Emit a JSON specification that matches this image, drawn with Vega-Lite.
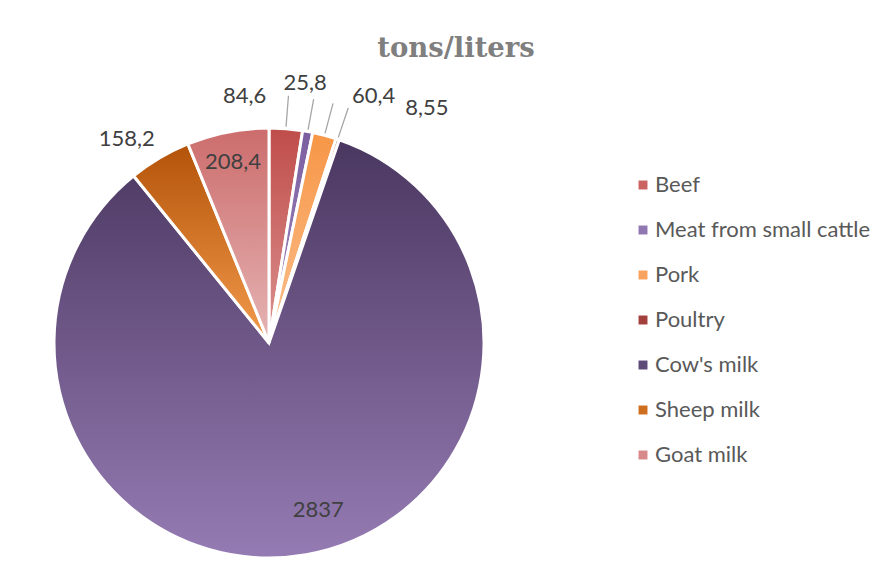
{
  "$schema": "https://vega.github.io/schema/vega-lite/v6.json",
  "width": 538,
  "height": 430,
  "autosize": {"type": "none"},
  "padding": {"left": 0, "top": 128, "right": 353, "bottom": 8},
  "background": "white",
  "title": {
    "text": "tons/liters",
    "font": "DejaVu Serif",
    "fontWeight": "bold",
    "fontSize": 27.5,
    "color": "#7f7f7f",
    "anchor": "middle",
    "dx": 187,
    "offset": 10
  },
  "data": {
    "values": [
      {"category": "Beef", "value": 84.6, "label": "84,6", "n": 1},
      {"category": "Meat from small cattle", "value": 25.8, "label": "25,8", "n": 2},
      {"category": "Pork", "value": 60.4, "label": "60,4", "n": 3},
      {"category": "Poultry", "value": 8.55, "label": "8,55", "n": 4},
      {"category": "Cow's milk", "value": 2837, "label": "2837", "n": 5},
      {"category": "Sheep milk", "value": 158.2, "label": "158,2", "n": 6},
      {"category": "Goat milk", "value": 208.4, "label": "208,4", "n": 7}
    ]
  },
  "encoding": {
    "theta": {"field": "value", "type": "quantitative", "stack": true},
    "order": {"field": "n", "type": "quantitative"}
  },
  "layer": [
    {
      "mark": {"type": "arc", "radius": 215, "stroke": "white", "strokeWidth": 3},
      "encoding": {
        "fill": {
          "condition": [
            {"test": "datum.category === 'Beef'", "value": {"gradient": "linear", "x1": 0, "y1": 0, "x2": 0, "y2": 1, "stops": [{"offset": 0, "color": "#bf4d4a"}, {"offset": 1, "color": "#dc9391"}]}},
            {"test": "datum.category === 'Meat from small cattle'", "value": {"gradient": "linear", "x1": 0, "y1": 0, "x2": 0, "y2": 1, "stops": [{"offset": 0, "color": "#7b5e9f"}, {"offset": 1, "color": "#a28cc2"}]}},
            {"test": "datum.category === 'Pork'", "value": {"gradient": "linear", "x1": 0, "y1": 0, "x2": 0, "y2": 1, "stops": [{"offset": 0, "color": "#f79646"}, {"offset": 1, "color": "#fbc08f"}]}},
            {"test": "datum.category === 'Poultry'", "value": {"gradient": "linear", "x1": 0, "y1": 0, "x2": 0, "y2": 1, "stops": [{"offset": 0, "color": "#953735"}, {"offset": 1, "color": "#c0504d"}]}},
            {"test": "datum.category === 'Sheep milk'", "value": {"gradient": "linear", "x1": 0, "y1": 0, "x2": 0, "y2": 1, "stops": [{"offset": 0, "color": "#b35309"}, {"offset": 1, "color": "#f39b4c"}]}},
            {"test": "datum.category === 'Goat milk'", "value": {"gradient": "linear", "x1": 0, "y1": 0, "x2": 0, "y2": 1, "stops": [{"offset": 0, "color": "#cc6c6c"}, {"offset": 1, "color": "#e6b4b4"}]}}
          ],
          "value": {"gradient": "linear", "x1": 0, "y1": 0, "x2": 0, "y2": 1, "stops": [{"offset": 0, "color": "#4a3760"}, {"offset": 1, "color": "#957bb3"}]}
        }
      }
    },
    {
      "mark": {"type": "arc", "radius": 0},
      "encoding": {
        "color": {
          "field": "category",
          "type": "nominal",
          "sort": null,
          "scale": {
            "domain": ["Beef", "Meat from small cattle", "Pork", "Poultry", "Cow's milk", "Sheep milk", "Goat milk"],
            "range": ["#cb6360", "#9278b3", "#f9a361", "#a3403d", "#5e4a7a", "#d06e20", "#d88a8a"]
          },
          "legend": {
            "title": null,
            "orient": "none",
            "legendX": 632,
            "legendY": 46,
            "symbolType": "square",
            "symbolSize": 80,
            "symbolStrokeWidth": 0,
            "symbolOpacity": 1,
            "labelFont": "Lato",
            "labelFontSize": 22,
            "labelColor": "#595959",
            "labelOffset": 1,
            "rowPadding": 23,
            "labelLimit": 300,
            "padding": 0
          }
        }
      }
    },
    {
      "mark": {"type": "arc", "radius": 248, "radius2": 217, "padAngle": 1.0, "fill": null, "stroke": "#a6a6a6", "strokeWidth": 1.3},
      "encoding": {
        "strokeOpacity": {
          "condition": {"test": "indexof(['Beef', 'Meat from small cattle', 'Pork', 'Poultry'], datum.category) >= 0", "value": 1},
          "value": 0
        }
      }
    },
    {
      "mark": {
        "type": "text",
        "radius": 250,
        "font": "Lato",
        "fontSize": 22,
        "color": "#404040",
        "align": "center",
        "baseline": "middle",
        "dx": {"expr": "datum.category === 'Beef' ? -44 : datum.category === 'Meat from small cattle' ? -9 : datum.category === 'Pork' ? 40 : datum.category === 'Poultry' ? 78 : datum.category === 'Sheep milk' ? -15 : datum.category === 'Goat milk' ? 12 : 6"},
        "dy": {"expr": "datum.category === 'Beef' ? 2 : datum.category === 'Meat from small cattle' ? -14 : datum.category === 'Pork' ? -5 : datum.category === 'Poultry' ? 2 : datum.category === 'Sheep milk' ? 11 : datum.category === 'Goat milk' ? 64 : -79"}
      },
      "encoding": {
        "text": {"field": "label", "type": "nominal"}
      }
    }
  ]
}
